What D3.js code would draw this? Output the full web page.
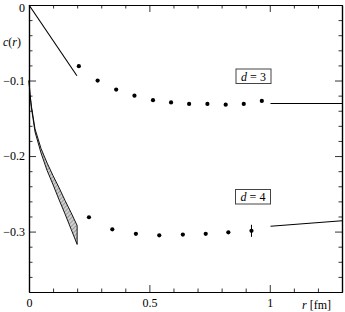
<!DOCTYPE html>
<html>
<head>
<meta charset="utf-8">
<script src="https://cdn.jsdelivr.net/npm/d3@7"></script>
<style>
  body { margin: 0; background: #fff; }
  svg text { font-family: "Liberation Serif", "Times New Roman", Times, "DejaVu Serif", serif; }
</style>
</head>
<body>
<div id="chart"></div>
<script>
// lattice data, d = 3
var r3 = [0.207, 0.285, 0.362, 0.438, 0.515, 0.590, 0.665, 0.741, 0.817, 0.892, 0.967];
var c3 = [-0.081, -0.100, -0.112, -0.120, -0.126, -0.129, -0.131, -0.131, -0.132, -0.131, -0.127];
// lattice data, d = 4
var r4 = [0.249, 0.346, 0.444, 0.541, 0.639, 0.734, 0.828, 0.924];
var c4 = [-0.281, -0.297, -0.303, -0.305, -0.304, -0.303, -0.301, -0.299];
var e4 = [0, 0, 0, 0, 0, 0, 0, 0.008];
// perturbative lines
var r3small = [0, 0.199], c3small = [0, -0.0937];
var r3large = [1.003, 1.3], c3large = [-0.1305, -0.1305];
var r4large = [1.003, 1.3], c4large = [-0.2929, -0.2856];
// d = 4 band at small r
var rBand = [0, 0.004, 0.01, 0.025, 0.05, 0.075, 0.1, 0.125, 0.15, 0.175, 0.2];
var bandUp = [-0.100, -0.118, -0.134, -0.164, -0.190, -0.209, -0.226, -0.242, -0.259, -0.275, -0.292];
var bandLo = [-0.100, -0.118, -0.136, -0.168, -0.196, -0.219, -0.238, -0.258, -0.277, -0.297, -0.317];
// ticks
var xMajor = [0, 0.5, 1];
var xMinor = [0.1, 0.2, 0.3, 0.4, 0.6, 0.7, 0.8, 0.9, 1.1, 1.2];
var yMajor = [0, -0.1, -0.2, -0.3];
var yMinor = [-0.02, -0.04, -0.06, -0.08, -0.12, -0.14, -0.16, -0.18, -0.22, -0.24, -0.26, -0.28, -0.32, -0.34, -0.36];

var W = 345, H = 312;
var FONT = "'Liberation Serif', 'Times New Roman', Times, 'DejaVu Serif', serif";
var x = d3.scaleLinear().domain([0, 1.3]).range([29, 342]);
var y = d3.scaleLinear().domain([-0.38, 0]).range([292, 5]);

var svg = d3.select("#chart").append("svg")
    .attr("width", W).attr("height", H)
    .style("font-family", FONT);

var pat = svg.append("defs").append("pattern")
    .attr("id", "hatch").attr("patternUnits", "userSpaceOnUse")
    .attr("width", 3).attr("height", 3)
    .attr("patternTransform", "rotate(45)");
pat.append("rect").attr("width", 3).attr("height", 3).attr("fill", "#d0d0d0");
pat.append("line").attr("x1", 0).attr("y1", 0).attr("x2", 0).attr("y2", 3)
    .attr("stroke", "#333").attr("stroke-width", 0.7);

// band
var band = d3.area()
    .x((d, i) => x(rBand[i]))
    .y0((d, i) => y(bandLo[i]))
    .y1((d, i) => y(bandUp[i]));
svg.append("path")
    .attr("d", band(rBand) + "Z")
    .attr("fill", "url(#hatch)")
    .attr("stroke", "#000").attr("stroke-width", 0.9);

var line = d3.line().x(d => x(d[0])).y(d => y(d[1]));
[[r3small, c3small], [r3large, c3large], [r4large, c4large]].forEach(function (p) {
    svg.append("path")
        .attr("d", line(d3.zip(p[0], p[1])))
        .attr("fill", "none").attr("stroke", "#000").attr("stroke-width", 1.1);
});

// error bars
svg.selectAll("line.err")
    .data(d3.range(r4.length).filter(i => e4[i] > 0)).enter().append("line")
    .attr("class", "err")
    .attr("x1", i => x(r4[i])).attr("x2", i => x(r4[i]))
    .attr("y1", i => y(c4[i] + e4[i])).attr("y2", i => y(c4[i] - e4[i]))
    .attr("stroke", "#000").attr("stroke-width", 1);

svg.selectAll("circle.p3")
    .data(d3.zip(r3, c3)).enter().append("circle")
    .attr("class", "p3").attr("r", 2.1).attr("fill", "#000")
    .attr("cx", d => x(d[0])).attr("cy", d => y(d[1]));
svg.selectAll("circle.p4")
    .data(d3.zip(r4, c4)).enter().append("circle")
    .attr("class", "p4").attr("r", 2.1).attr("fill", "#000")
    .attr("cx", d => x(d[0])).attr("cy", d => y(d[1]));

// axes, ticks pointing inward
function styleAxis(g) {
    g.attr("font-family", FONT).attr("font-size", 12);
    g.select(".domain").attr("stroke", "#000").attr("stroke-width", 1.2);
    g.selectAll(".tick line").attr("stroke", "#000").attr("stroke-width", 0.8);
    g.selectAll("text").attr("fill", "#000");
}
svg.append("g").attr("transform", "translate(0," + 292 + ")")
    .call(d3.axisBottom(x).tickValues(xMajor).tickSize(-7).tickSizeOuter(0).tickPadding(6).tickFormat(d3.format("")))
    .call(styleAxis);
svg.append("g").attr("transform", "translate(0," + 292 + ")")
    .call(d3.axisBottom(x).tickValues(xMinor).tickSize(-3.5).tickSizeOuter(0).tickFormat(""))
    .call(styleAxis);
svg.append("g").attr("transform", "translate(0," + 5 + ")")
    .call(d3.axisTop(x).tickValues(xMajor).tickSize(-7).tickSizeOuter(0).tickFormat(""))
    .call(styleAxis);
svg.append("g").attr("transform", "translate(0," + 5 + ")")
    .call(d3.axisTop(x).tickValues(xMinor).tickSize(-3.5).tickSizeOuter(0).tickFormat(""))
    .call(styleAxis);
var yl = svg.append("g").attr("transform", "translate(" + 29 + ",0)")
    .call(d3.axisLeft(y).tickValues(yMajor).tickSize(-7).tickSizeOuter(0).tickPadding(4).tickFormat(d3.format("")))
    .call(styleAxis);
yl.selectAll(".tick text").filter(d => d === 0).attr("dy", "0.5em");
svg.append("g").attr("transform", "translate(" + 29 + ",0)")
    .call(d3.axisLeft(y).tickValues(yMinor).tickSize(-3.5).tickSizeOuter(0).tickFormat(""))
    .call(styleAxis);
svg.append("g").attr("transform", "translate(" + 342 + ",0)")
    .call(d3.axisRight(y).tickValues(yMajor).tickSize(-7).tickSizeOuter(0).tickFormat(""))
    .call(styleAxis);
svg.append("g").attr("transform", "translate(" + 342 + ",0)")
    .call(d3.axisRight(y).tickValues(yMinor).tickSize(-3.5).tickSizeOuter(0).tickFormat(""))
    .call(styleAxis);

// axis titles
var cl = svg.append("text").attr("x", 3).attr("y", 46).attr("font-size", 12);
cl.append("tspan").attr("font-style", "italic").text("c");
cl.append("tspan").text("(");
cl.append("tspan").attr("font-style", "italic").text("r");
cl.append("tspan").text(")");
var rl = svg.append("text").attr("x", 302).attr("y", 309).attr("font-size", 12);
rl.append("tspan").attr("font-style", "italic").text("r");
rl.append("tspan").text(" [fm]");

// legend boxes
function labelBox(x0, y0, n) {
    svg.append("rect").attr("x", x0).attr("y", y0).attr("width", 35).attr("height", 14.5)
        .attr("fill", "#fff").attr("stroke", "#444").attr("stroke-width", 1);
    var t = svg.append("text").attr("x", x0 + 17.5).attr("y", y0 + 11.5)
        .attr("text-anchor", "middle").attr("font-size", 12);
    t.append("tspan").attr("font-style", "italic").text("d");
    t.append("tspan").text(" = " + n);
}
labelBox(236, 69, 3);
labelBox(235.5, 189.5, 4);
</script>
</body>
</html>
